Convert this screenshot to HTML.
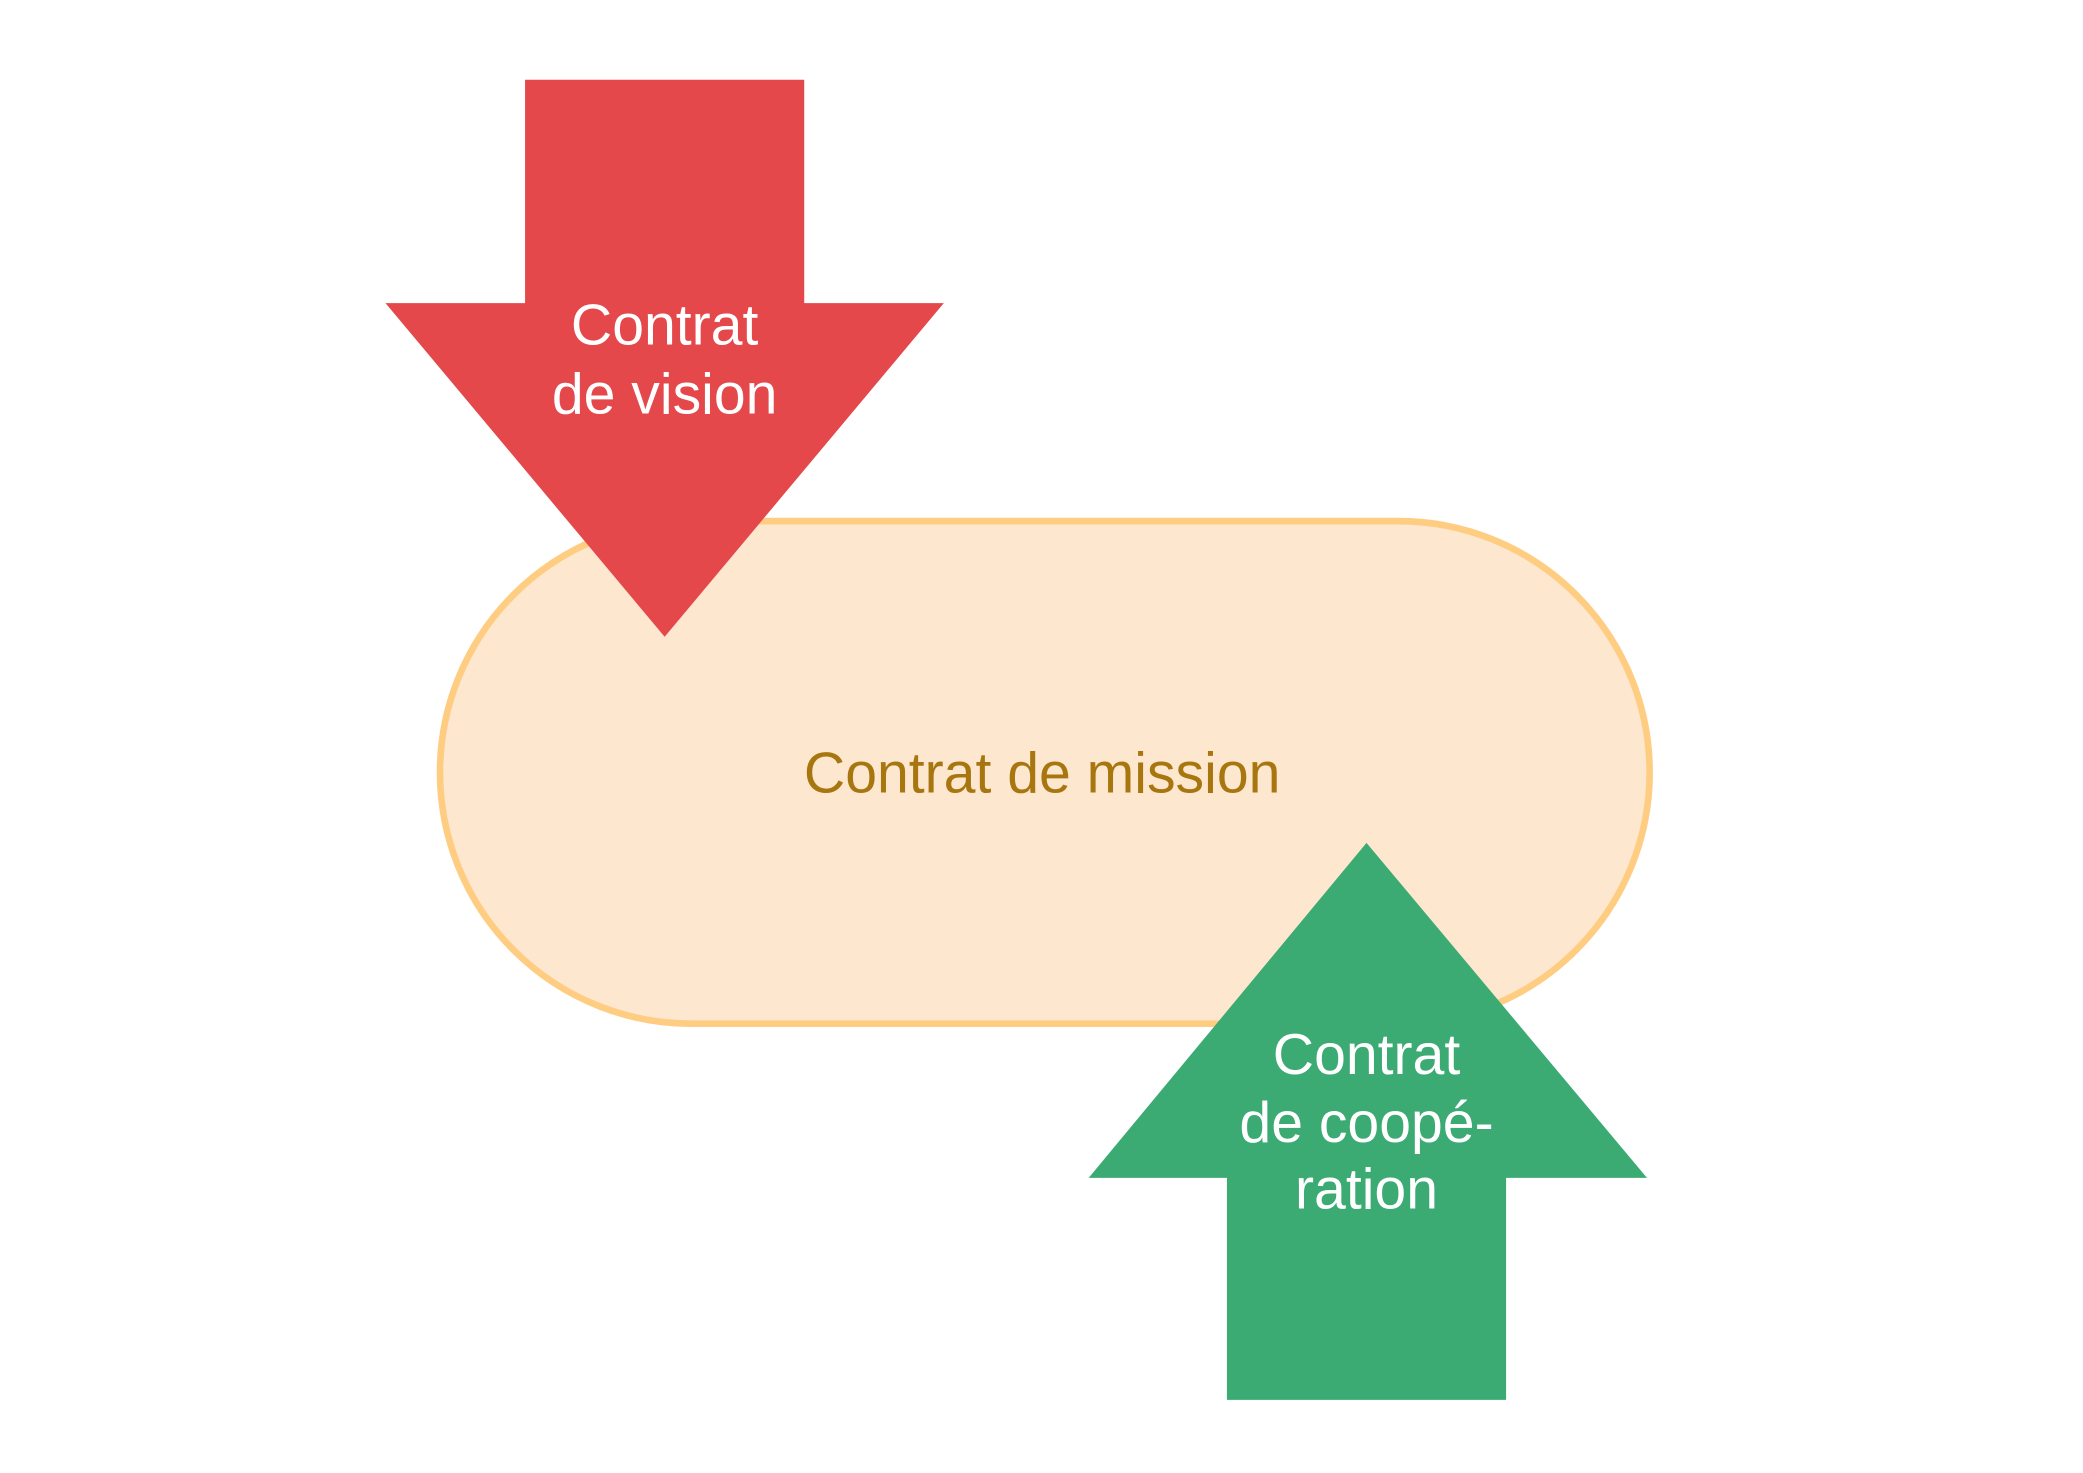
<!DOCTYPE html>
<html><head><meta charset="utf-8"><style>html,body{margin:0;padding:0;background:#fff}svg{display:block}</style></head>
<body>
<svg width="2083" height="1473" viewBox="0 0 1567 1108" preserveAspectRatio="none" xmlns="http://www.w3.org/2000/svg" font-family="Liberation Sans, Arial, sans-serif">
<rect x="331" y="392" width="910" height="378" rx="189" ry="189" fill="#fee7cf" stroke="#fecd82" stroke-width="5"/>
<text x="784" y="596" font-size="43" fill="#a8760f" text-anchor="middle">Contrat de mission</text>
<polygon points="395,60 605,60 605,228 710,228 500,479 290,228 395,228" fill="#e4484a"/>
<text x="500" y="259" font-size="43" fill="#fff" text-anchor="middle">Contrat</text>
<text x="500" y="311" font-size="43" fill="#fff" text-anchor="middle">de vision</text>
<polygon points="923,1053 1133,1053 1133,886 1239,886 1028,634 819,886 923,886" fill="#3baa73"/>
<text x="1028" y="808" font-size="43" fill="#fff" text-anchor="middle">Contrat</text>
<text x="1028" y="859" font-size="43" fill="#fff" text-anchor="middle">de coopé-</text>
<text x="1028" y="909" font-size="43" fill="#fff" text-anchor="middle">ration</text>
</svg>
</body></html>
